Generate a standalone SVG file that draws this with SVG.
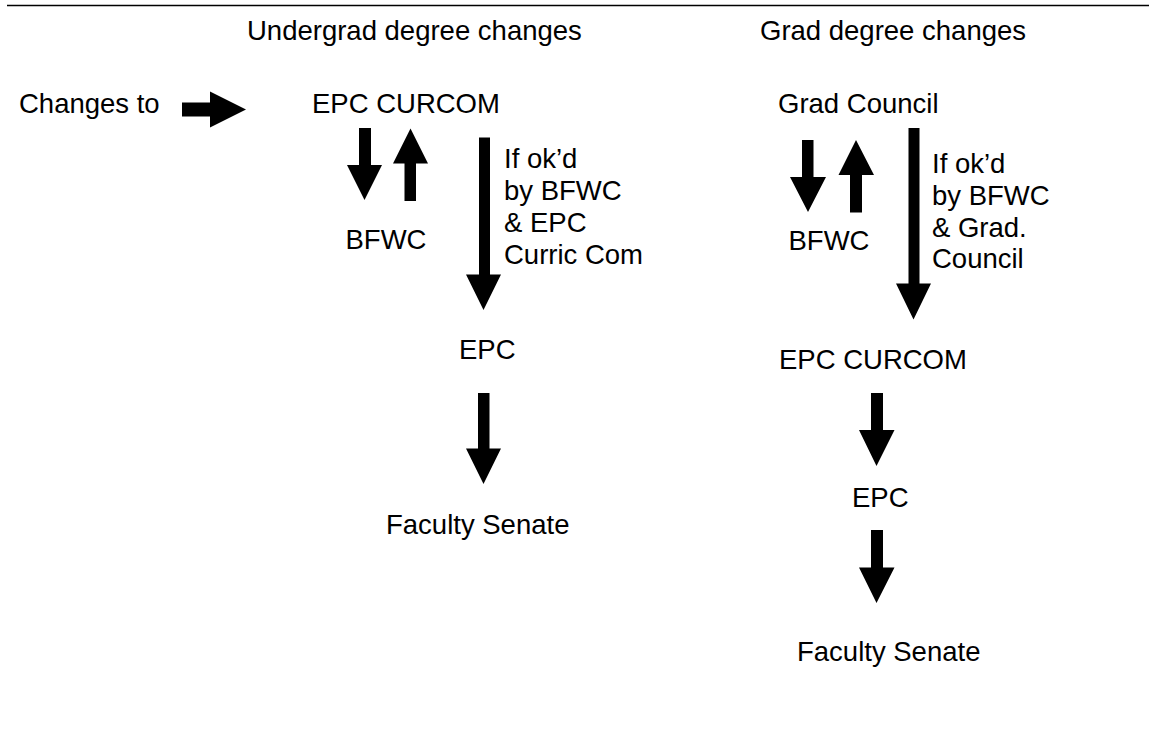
<svg xmlns="http://www.w3.org/2000/svg" width="1149" height="731" viewBox="0 0 1149 731">
<style>
  text { font-family: "Liberation Sans", Arial, sans-serif; font-size: 27.5px; fill: #000; }
  .arrow { fill: #000; stroke: none; }
  .rule { stroke: #000; stroke-width: 1.4; }
</style>
<rect width="1149" height="731" fill="#fff"/>
<line class="rule" x1="7" y1="5.5" x2="1149" y2="5.5"/>
<g id="headers">
  <text x="247" y="40">Undergrad degree changes</text>
  <text x="760" y="40">Grad degree changes</text>
</g>
<g id="changes-to"><text x="19" y="112.7">Changes to</text></g>
<g id="ug-epc-curcom"><text x="312" y="112.7">EPC CURCOM</text></g>
<g id="ug-bfwc"><text x="386" y="249.3" text-anchor="middle">BFWC</text></g>
<g id="ug-condition">
  <text x="504" y="168.3">If ok’d</text>
  <text x="504" y="199.5">by BFWC</text>
  <text x="504" y="231.7">&amp; EPC</text>
  <text x="504" y="264.3">Curric Com</text>
</g>
<g id="ug-epc"><text x="459" y="359.3">EPC</text></g>
<g id="ug-senate"><text x="386" y="534">Faculty Senate</text></g>
<g id="g-grad-council"><text x="778" y="113.3">Grad Council</text></g>
<g id="g-bfwc"><text x="829" y="250" text-anchor="middle">BFWC</text></g>
<g id="g-condition">
  <text x="932" y="172.7">If ok’d</text>
  <text x="932" y="205">by BFWC</text>
  <text x="932" y="236.5">&amp; Grad.</text>
  <text x="932" y="268.3">Council</text>
</g>
<g id="g-epc-curcom"><text x="779" y="369.3">EPC CURCOM</text></g>
<g id="g-epc"><text x="852" y="506.7">EPC</text></g>
<g id="g-senate"><text x="797" y="660.5">Faculty Senate</text></g>
<g id="connectors">
  <polygon class="arrow" points="182,102.5 210,102.5 210,91.5 246,109.5 210,127.5 210,116.5 182,116.5"/>
  <polygon class="arrow" points="359,128 371,128 371,165 382,165 364.5,200 347,165 359,165"/>
  <polygon class="arrow" points="410.5,128.5 428,163.5 416,163.5 416,201 404.5,201 404.5,163.5 393,163.5"/>
  <polygon class="arrow" points="479,137.5 490,137.5 490,274.5 501,274.5 483.5,310 466,274.5 479,274.5"/>
  <polygon class="arrow" points="478,393 489.5,393 489.5,448.5 501,448.5 483.5,484 466,448.5 478,448.5"/>
  <polygon class="arrow" points="802,140 813.5,140 813.5,177 826,177 808,212 790,177 802,177"/>
  <polygon class="arrow" points="856,140 874,175 862,175 862,212.5 850,212.5 850,175 838.5,175"/>
  <polygon class="arrow" points="908.5,128 919.5,128 919.5,283.5 931,283.5 913.5,319.5 896,283.5 908.5,283.5"/>
  <polygon class="arrow" points="871,393 883,393 883,430 894.5,430 876.5,466 859,430 871,430"/>
  <polygon class="arrow" points="871,530 883,530 883,567.5 894.5,567.5 876.5,603 859,567.5 871,567.5"/>
</g>
</svg>
